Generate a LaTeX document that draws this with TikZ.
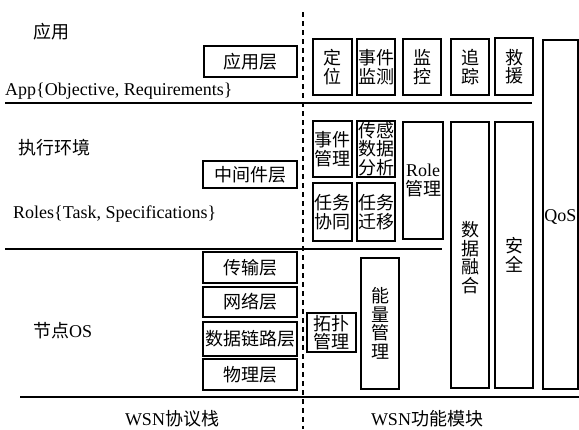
\documentclass[tikz,border=0pt]{standalone}
\usepackage{fontspec}
\setmainfont{Liberation Serif}
\newfontfamily\cjk{Noto Sans CJK SC}
\begin{document}
\begin{tikzpicture}[x=1pt,y=-1pt,
  box/.style={draw, line width=1.3pt, inner sep=0pt, align=center,
    font=\cjk\fontsize{18}{18.5}\selectfont},
  lbl/.style={inner sep=0pt, font=\fontsize{18}{20}\selectfont},
  clbl/.style={inner sep=0pt, font=\cjk\fontsize{18}{20}\selectfont},
  sep/.style={line width=1.6pt},
  divider/.style={line width=1.6pt, dash pattern=on 5pt off 4pt}]
\useasboundingbox (0,0) rectangle (579,429);

% layer captions on the left
\node[clbl] (appcap) at (52,32) {应用};
\node[lbl, anchor=base west] (appreq) at (5,95) {App\{Objective, Requirements\}};
\node[clbl] (execcap) at (54,148) {执行环境};
\node[lbl, anchor=base west] (roles) at (13,218) {Roles\{Task, Specifications\}};
\node[lbl, anchor=base west] (oscap) at (33,337) {{\cjk\fontsize{18}{20}\selectfont 节点}OS};

% protocol stack
\node[box, minimum width=93pt, minimum height=31pt] (appl) at (250.5,61.5) {应用层};
\node[box, minimum width=94pt, minimum height=27pt] (mid) at (250,174.5) {中间件层};
\node[box, minimum width=94pt, minimum height=31pt] (trans) at (250,267.5) {传输层};
\node[box, minimum width=94pt, minimum height=30pt] (net) at (250,302) {网络层};
\node[box, minimum width=94pt, minimum height=34pt] (link) at (250,339) {数据链路层};
\node[box, minimum width=94pt, minimum height=31pt] (phy) at (250,374.5) {物理层};

% application modules
\node[box, minimum width=39pt, minimum height=56pt] (loc) at (332.5,67) {定\\位};
\node[box, minimum width=38pt, minimum height=56pt] (evmon) at (376,67) {事件\\监测};
\node[box, minimum width=38pt, minimum height=56pt] (mon) at (422,67) {监\\控};
\node[box, minimum width=38pt, minimum height=56pt] (track) at (470,67) {追\\踪};
\node[box, minimum width=38pt, minimum height=57pt] (rescue) at (514,66.5) {救\\援};

% middleware modules
\node[box, minimum width=39pt, minimum height=56pt] (evman) at (332.5,149) {事件\\管理};
\node[box, minimum width=38pt, minimum height=56pt] (sens) at (376,149) {传感\\数据\\分析};
\node[box, minimum width=39pt, minimum height=58pt] (coop) at (332.5,212) {任务\\协同};
\node[box, minimum width=38pt, minimum height=58pt] (migr) at (376,212) {任务\\迁移};
\node[box, minimum width=40pt, minimum height=117pt] (role) at (423,180.5)
  {{\rmfamily\fontsize{18}{20}\selectfont Role}\\管理};

% node-level modules
\node[box, minimum width=49pt, minimum height=39pt] (topo) at (331.5,332.5) {拓扑\\管理};
\node[box, minimum width=38pt, minimum height=131pt] (energy) at (380,323.5) {能\\量\\管\\理};

% cross-layer modules
\node[box, minimum width=38pt, minimum height=266pt] (fusion) at (470,255) {\\[2pt]数\\据\\融\\合};
\node[box, minimum width=38pt, minimum height=266pt] (secur) at (514,255) {安\\全};
\node[box, minimum width=35pt, minimum height=349pt, font=\fontsize{18}{20}\selectfont] (qos) at (560.5,214.5) {\\[-4pt]QoS};

% layer separators
\coordinate (s1a) at (5,103);   \coordinate (s1b) at (532,103);
\coordinate (s2a) at (5,249);   \coordinate (s2b) at (442,249);
\coordinate (s3a) at (20,397);  \coordinate (s3b) at (579,397);
\draw[sep] (s1a) -- (s1b);
\draw[sep] (s2a) -- (s2b);
\draw[sep] (s3a) -- (s3b);

% stack / modules divider
\coordinate (dtop) at (303,12);
\coordinate (dbot) at (303,429);
\draw[divider] (dtop) -- (dbot);

% column captions
\node[lbl] (stackcap) at (172,419) {WSN{\cjk\fontsize{18}{20}\selectfont 协议栈}};
\node[lbl] (modcap) at (427,419) {WSN{\cjk\fontsize{18}{20}\selectfont 功能模块}};
\end{tikzpicture}
\end{document}
